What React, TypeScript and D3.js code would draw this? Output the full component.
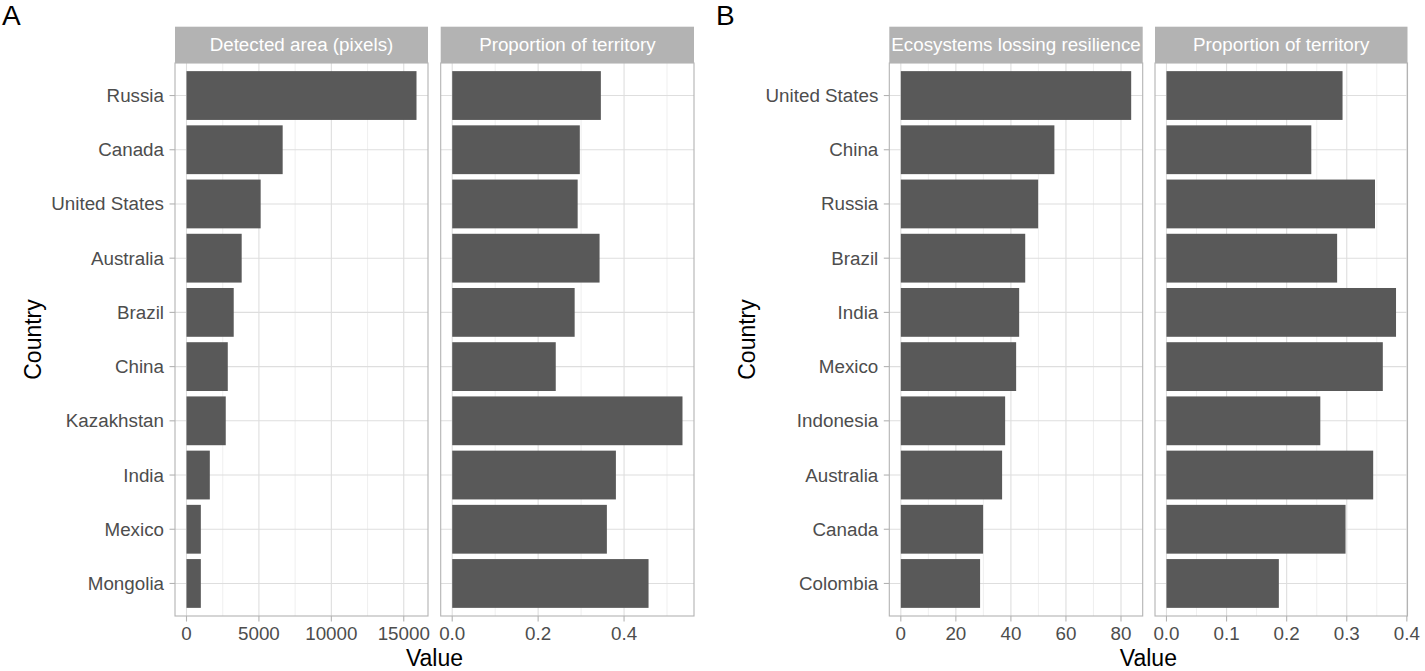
import React from "react";
import * as d3 from "d3";

const categoriesA = ["Russia", "Canada", "United States", "Australia", "Brazil", "China", "Kazakhstan", "India", "Mexico", "Mongolia"];
const detectedArea = [15880, 6640, 5120, 3810, 3260, 2850, 2710, 1610, 990, 990];
const proportionA = [0.346, 0.297, 0.292, 0.343, 0.285, 0.241, 0.536, 0.381, 0.36, 0.457];

const categoriesB = ["United States", "China", "Russia", "Brazil", "India", "Mexico", "Indonesia", "Australia", "Canada", "Colombia"];
const ecosystemsLosing = [83.7, 55.8, 49.9, 45.2, 43.0, 41.9, 37.9, 36.8, 29.9, 28.8];
const proportionB = [0.293, 0.241, 0.347, 0.284, 0.382, 0.36, 0.256, 0.344, 0.298, 0.187];

const ticksA1 = [0, 5000, 10000, 15000];
const ticksA2 = [0, 0.2, 0.4];
const ticksB1 = [0, 20, 40, 60, 80];
const ticksB2 = [0, 0.1, 0.2, 0.3, 0.4];

const FONT = "'Liberation Sans', Arial, Helvetica, sans-serif";
const PANEL_TOP = 63;
const PANEL_BOTTOM = 616;
const STRIP_TOP = 26.7;
const TICK_FS = 18.8;

type FacetProps = {
  id: string;
  x0: number;
  x1: number;
  categories: string[];
  values: number[];
  ticks: number[];
  fmt: (v: number) => string;
  strip: string;
  showY: boolean;
};

function Facet({ id, x0, x1, categories, values, ticks, fmt, strip, showY }: FacetProps) {
  const max = d3.max(values) as number;
  const x = d3.scaleLinear().domain([-0.05 * max, 1.05 * max]).range([x0, x1]);
  const y = d3
    .scaleBand<string>()
    .domain(categories)
    .range([PANEL_TOP, PANEL_BOTTOM])
    .paddingInner(0.1)
    .paddingOuter(0.15);
  const [lo, hi] = x.domain();
  const step = ticks[1] - ticks[0];
  const minor: number[] = [];
  for (let t = ticks[0] - step; t <= ticks[ticks.length - 1] + step + 1e-9; t += step) {
    const m = t + step / 2;
    if (m >= lo && m <= hi) minor.push(m);
  }
  const stripH = PANEL_TOP - STRIP_TOP;
  return (
    <g>
      <defs>
        <clipPath id={`clip-${id}`}>
          <rect x={x0} y={STRIP_TOP} width={x1 - x0} height={stripH} />
        </clipPath>
      </defs>
      <rect x={x0} y={STRIP_TOP} width={x1 - x0} height={stripH} fill="#b3b3b3" />
      <text
        x={(x0 + x1) / 2}
        y={STRIP_TOP + stripH / 2 + 6.5}
        textAnchor="middle"
        fill="#ffffff"
        fontSize={18.8}
        fontFamily={FONT}
        clipPath={`url(#clip-${id})`}
      >
        {strip}
      </text>
      <rect x={x0} y={PANEL_TOP} width={x1 - x0} height={PANEL_BOTTOM - PANEL_TOP} fill="#ffffff" />
      {minor.map((m) => (
        <line key={`mn${m}`} x1={x(m)} x2={x(m)} y1={PANEL_TOP} y2={PANEL_BOTTOM} stroke="#ebebeb" strokeWidth={0.8} />
      ))}
      {ticks.map((t) => (
        <line key={`mj${t}`} x1={x(t)} x2={x(t)} y1={PANEL_TOP} y2={PANEL_BOTTOM} stroke="#dedede" strokeWidth={1.1} />
      ))}
      {categories.map((c) => {
        const cy = (y(c) as number) + y.bandwidth() / 2;
        return <line key={`hg${c}`} x1={x0} x2={x1} y1={cy} y2={cy} stroke="#dedede" strokeWidth={1.1} />;
      })}
      {categories.map((c, i) => (
        <rect
          key={`b${c}`}
          x={x(0)}
          y={y(c) as number}
          width={x(values[i]) - x(0)}
          height={y.bandwidth()}
          fill="#595959"
        />
      ))}
      <rect
        x={x0}
        y={PANEL_TOP}
        width={x1 - x0}
        height={PANEL_BOTTOM - PANEL_TOP}
        fill="none"
        stroke="#b3b3b3"
        strokeWidth={1.1}
      />
      {ticks.map((t) => (
        <g key={`xt${t}`}>
          <line x1={x(t)} x2={x(t)} y1={PANEL_BOTTOM} y2={PANEL_BOTTOM + 5.5} stroke="#b3b3b3" strokeWidth={1.1} />
          <text x={x(t)} y={PANEL_BOTTOM + 24} textAnchor="middle" fill="#4d4d4d" fontSize={TICK_FS} fontFamily={FONT}>
            {fmt(t)}
          </text>
        </g>
      ))}
      {showY &&
        categories.map((c) => {
          const cy = (y(c) as number) + y.bandwidth() / 2;
          return (
            <g key={`yt${c}`}>
              <line x1={x0 - 5.5} x2={x0} y1={cy} y2={cy} stroke="#b3b3b3" strokeWidth={1.1} />
              <text x={x0 - 11} y={cy + 6.5} textAnchor="end" fill="#4d4d4d" fontSize={TICK_FS} fontFamily={FONT}>
                {c}
              </text>
            </g>
          );
        })}
    </g>
  );
}

export default function App() {
  const fInt = d3.format("d");
  const f1 = d3.format(".1f");
  const midY = (PANEL_TOP + PANEL_BOTTOM) / 2;
  const aL = 175, aR = 694, bL = 889.3, bR = 1407.5;
  return (
    <svg
      width={1425}
      height={671}
      viewBox="0 0 1425 671"
      style={{ position: "absolute", left: 0, top: 0, background: "#ffffff" }}
    >
      <rect x={0} y={0} width={1425} height={671} fill="#ffffff" />
      <text x={2} y={25} fontSize={28} fontFamily={FONT} fill="#000">A</text>
      <text x={716} y={25} fontSize={28} fontFamily={FONT} fill="#000">B</text>

      <Facet id="a1" x0={aL} x1={428} categories={categoriesA} values={detectedArea} ticks={ticksA1} fmt={fInt} strip="Detected area (pixels)" showY />
      <Facet id="a2" x0={440.7} x1={aR} categories={categoriesA} values={proportionA} ticks={ticksA2} fmt={f1} strip="Proportion of territory" showY={false} />
      <Facet id="b1" x0={bL} x1={1142.7} categories={categoriesB} values={ecosystemsLosing} ticks={ticksB1} fmt={fInt} strip="Ecosystems lossing resilience" showY />
      <Facet id="b2" x0={1155} x1={bR} categories={categoriesB} values={proportionB} ticks={ticksB2} fmt={f1} strip="Proportion of territory" showY={false} />

      <text x={(aL + aR) / 2} y={666} textAnchor="middle" fontSize={23} fontFamily={FONT} fill="#000">Value</text>
      <text x={(bL + bR) / 2} y={666} textAnchor="middle" fontSize={23} fontFamily={FONT} fill="#000">Value</text>
      <text transform={`translate(41,${midY}) rotate(-90)`} textAnchor="middle" fontSize={23} fontFamily={FONT} fill="#000">Country</text>
      <text transform={`translate(755,${midY}) rotate(-90)`} textAnchor="middle" fontSize={23} fontFamily={FONT} fill="#000">Country</text>
    </svg>
  );
}
